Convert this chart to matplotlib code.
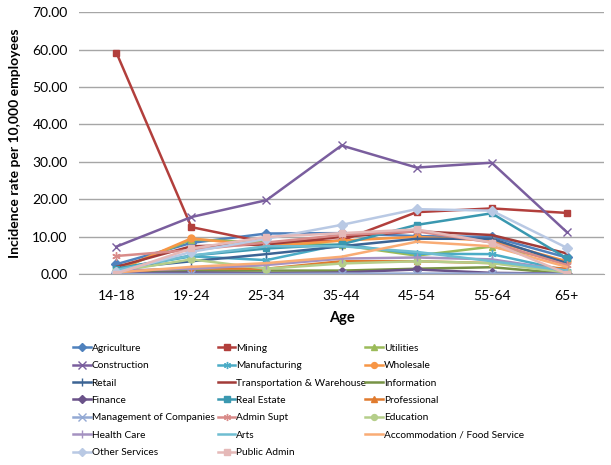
import matplotlib
matplotlib.use('Agg')
import matplotlib.pyplot as plt

plt.rcParams['font.family'] = ['Lato', 'DejaVu Sans']

ages = ['14-18', '19-24', '25-34', '35-44', '45-54', '55-64', '65+']

names = ['Agriculture', 'Mining', 'Utilities', 'Construction', 'Manufacturing',
         'Wholesale', 'Retail', 'Transportation & Warehouse', 'Information',
         'Finance', 'Real Estate', 'Professional', 'Management of Companies',
         'Admin Supt', 'Education', 'Health Care', 'Arts',
         'Accommodation / Food Service', 'Other Services', 'Public Admin']

agriculture = [2.7, 8.4, 10.9, 11.0, 10.2, 10.0, 4.5]
mining = [59.2, 12.6, 8.5, 9.0, 16.6, 17.6, 16.4]
utilities = [1.0, 9.3, 8.5, 7.8, 5.0, 7.4, 3.5]
construction = [7.4, 15.3, 19.8, 34.4, 28.5, 29.8, 11.3]
manufacturing = [1.5, 4.8, 3.8, 8.0, 5.5, 5.4, 1.0]
wholesale = [1.0, 9.6, 7.5, 9.0, 10.0, 9.0, 3.5]
retail = [1.5, 3.5, 5.4, 7.5, 9.5, 9.5, 3.0]
transportation = [2.0, 7.5, 8.0, 10.0, 11.5, 10.5, 5.6]
information = [0.3, 1.0, 1.0, 1.0, 1.5, 1.9, 0.2]
finance = [0.3, 0.5, 0.3, 0.5, 1.3, 0.4, 0.2]
real_estate = [1.5, 5.0, 6.9, 8.0, 13.2, 16.3, 4.3]
professional = [0.8, 1.6, 1.5, 3.5, 3.5, 3.0, 1.5]
management = [0.1, 0.1, 0.1, 0.2, 0.2, 0.2, 0.1]
admin_supt = [4.9, 6.5, 8.5, 10.5, 11.5, 8.5, 2.5]
education = [0.8, 4.0, 1.5, 2.9, 3.5, 3.0, 0.5]
health_care = [1.0, 1.5, 2.5, 4.2, 4.5, 4.0, 1.0]
arts = [1.2, 5.0, 7.5, 7.5, 6.0, 3.5, 1.0]
accommodation = [0.5, 2.0, 3.0, 4.7, 8.7, 7.5, 2.0]
other_services = [0.5, 6.0, 9.5, 13.2, 17.4, 17.0, 7.1]
public_admin = [0.2, 6.9, 10.0, 11.0, 12.0, 8.5, 0.2]

series = [agriculture, mining, utilities, construction, manufacturing,
          wholesale, retail, transportation, information, finance,
          real_estate, professional, management, admin_supt, education,
          health_care, arts, accommodation, other_services, public_admin]

colors = ['#4F81BD', '#B23F3C', '#9BBB59', '#7A5E9E', '#4BACC6', '#F79646',
          '#3C6494', '#A23B38', '#779345', '#6A5289', '#3A98B0', '#E07B2E',
          '#93A9D4', '#D98B89', '#B5CE8A', '#A592C1', '#6FBDD1', '#F9AC75',
          '#B9C9E4', '#E5B9B8']
star = (6, 2, 0)
markers = ['D', 's', '^', 'x', star, 'o', '|', None, None,
           'D', 's', '^', 'x', star, 'o', '|', None, None,
           'D', 's']

fig = plt.figure(figsize=(6.11, 4.65), dpi=100)
ax = fig.add_axes([0.129, 0.410, 0.860, 0.564])

x = list(range(len(ages)))
handles = []
for vals, name, c, m in zip(series, names, colors, markers):
    ms = 5
    if m in ('x', '|') or m == star:
        ms = 6
    h, = ax.plot(x, vals, color=c, lw=1.8, marker=m, markersize=ms,
                 markeredgewidth=1.0, label=name)
    handles.append(h)

ax.set_xlim(-0.5, 6.5)
ax.set_ylim(0, 70)
ax.set_yticks(range(0, 71, 10))
ax.set_yticklabels(['%.2f' % v for v in range(0, 71, 10)], fontsize=10)
ax.set_xticks(x)
ax.set_xticklabels(ages, fontsize=10)
ax.yaxis.grid(True, color='#A6A6A6', lw=1)
ax.set_axisbelow(True)
for s in ['top', 'right', 'left']:
    ax.spines[s].set_visible(False)
ax.spines['bottom'].set_color('#A6A6A6')
ax.tick_params(axis='both', length=0, pad=8)
ax.tick_params(axis='x', pad=11)
ax.set_ylabel('Incidence rate per 10,000 employees', fontsize=10,
              fontweight='bold', labelpad=8)
ax.set_xlabel('Age', fontsize=10.5, fontweight='bold', labelpad=7)

# three legend columns, filled row by row like the original
col_x = [0.120, 0.357, 0.598]
for c in range(3):
    hs = handles[c::3]
    leg = fig.legend(hs, [h.get_label() for h in hs], loc='upper left',
                     bbox_to_anchor=(col_x[c], 0.261), frameon=False,
                     fontsize=7.3, handlelength=1.7, handletextpad=0.1,
                     labelspacing=0.82, borderaxespad=0, borderpad=0,
                     markerscale=0.85)

fig.savefig('out.png', dpi=100)
